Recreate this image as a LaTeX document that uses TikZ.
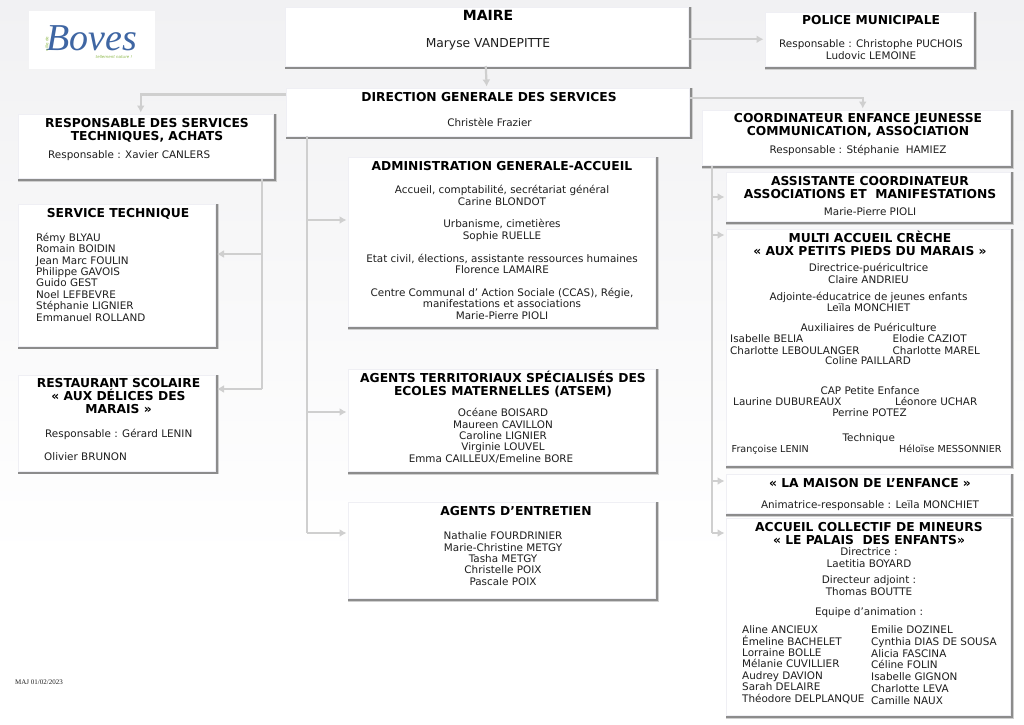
\documentclass[tikz,border=0pt]{standalone}
\usepackage{fontspec}
\setmainfont{DejaVu Sans}
\newfontfamily\logofont{Liberation Serif}
\definecolor{conn}{HTML}{CFCFCF}
\definecolor{shad}{HTML}{8C8C8C}
\definecolor{shadb}{HTML}{CFCFCF}
\definecolor{edge}{HTML}{EFEFF4}
\definecolor{bgtop}{HTML}{F1F1F3}
\definecolor{txtc}{HTML}{1E1E1E}
\definecolor{logoblue}{HTML}{3F66A3}
\definecolor{logogreen}{HTML}{8DB84A}
\usetikzlibrary{arrows.meta}
\newcommand\rb{\rule{0pt}{10pt}}
\newcommand\rh{\rule{0pt}{12pt}}
\tikzset{
  boxw/.style={draw=edge,line width=.6pt,fill=white,anchor=north west,inner sep=0pt,outer sep=0pt},
  body/.style={font=\fontsize{10.4}{11.4}\selectfont,text=txtc,inner sep=0pt,align=center,anchor=north,execute at begin node={\lineskiplimit=-20pt}},
  bodyl/.style={body,align=left,anchor=north west},
  bodyw/.style={bodyl,font=\fontsize{10.4}{11.75}\selectfont},
  small/.style={bodyl,font=\fontsize{9.6}{11.4}\selectfont},
  head/.style={font=\fontsize{12.3}{13}\bfseries\selectfont,text=black,inner sep=0pt,align=center,anchor=north,execute at begin node={\lineskiplimit=-20pt}},
  connl/.style={draw=conn,line width=2.2pt,shorten >=1.5pt,-{Latex[length=7pt,width=8pt]}},
  connn/.style={draw=conn,line width=2.2pt}
}
\newcommand\bx[5]{%
  \fill[shadb] (#2,#3) rectangle ({#4+.8},{#5+.8});
  \fill[shad] (#2,#3) rectangle (#4,#5);
  \node[boxw,minimum width={(#4-#2-2.5)*1pt},minimum height={(#5-#3-2.5)*1pt}] (#1) at (#2,#3) {};}
\newcommand\hd[4]{\node[head] (#1) at (#2,{#3-7.7}) {\rh #4};}
\newcommand\bd[4]{\node[body] (#1) at (#2,{#3-6.5}) {\rb #4};}
\newcommand\bl[4]{\node[bodyl] (#1) at (#2,{#3-6.5}) {\rb #4};}
\begin{document}
\begin{tikzpicture}[x=1pt,y=-1pt]
\useasboundingbox (0,0) rectangle (1024,724);
\shade[top color=bgtop,bottom color=white,draw=none] (0,0) rectangle (1024,560);
% logo
\node[fill=white,inner sep=0pt,minimum width=126pt,minimum height=58pt,anchor=north west] (logo) at (29,11) {};
\node[font=\logofont\itshape\fontsize{38}{38}\selectfont,text=logoblue,inner sep=0pt,text height=25pt,text depth=0pt] (logot) at (92,38) {Boves};
\node[font=\fontsize{4}{4}\itshape\selectfont,text=logogreen,inner sep=0pt] (logos) at (114,57) {tellement nature !};
\node[font=\fontsize{4}{4}\selectfont,text=logogreen,inner sep=0pt,rotate=90] (logov) at (47,44) {ville de};
% boxes
\bx{maire}{285}{7}{691}{68.5}
\bx{police}{765}{12}{976}{69}
\bx{dgs}{286}{88}{692}{138.5}
\bx{resp}{18}{114}{276}{181}
\bx{coord}{702}{110}{1013}{168}
\bx{assist}{726}{172}{1013}{224}
\bx{multi}{726}{229}{1013}{468}
\bx{maison}{726}{474}{1013}{516}
\bx{acm}{726}{518}{1013}{718}
\bx{admin}{348}{157}{658}{329}
\bx{atsem}{348}{369}{658}{474}
\bx{entr}{348}{502}{658}{601}
\bx{stech}{18}{204}{218}{348.5}
\bx{resto}{18}{375}{218}{473.5}
% connectors
\draw[connl] (maire.east|-police.west) -- (police.west);
\draw[connl] ([xshift=-1pt]maire.south) -- ([xshift=-1pt]dgs.north);
\draw[connl] ([yshift=17.5pt]dgs.west) -| ([xshift=-5pt]resp.north);
\draw[connl] ([yshift=14pt]dgs.east) -| ([xshift=6.5pt]coord.north);
\coordinate (t1) at ([xshift=21pt]dgs.south west);
\draw[connn] (t1) -- (t1|-0,533);
\draw[connl] (t1|-0,220) -- (admin.west|-0,220);
\draw[connl] (t1|-0,412) -- (atsem.west|-0,412);
\draw[connl] (t1|-0,533) -- (entr.west|-0,533);
\coordinate (t2) at ([xshift=-11.5pt]resp.south east);
\draw[connn] (t2) -- (t2|-0,389);
\draw[connl] (t2|-0,254) -- (stech.east|-0,254);
\draw[connl] (t2|-0,389) -- (resto.east|-0,389);
\coordinate (t3) at ([xshift=10pt]coord.south west);
\draw[connn] (t3) -- (t3|-0,533);
\draw[connl] (t3|-0,197) -- (assist.west|-0,197);
\draw[connl] (t3|-0,235) -- (multi.west|-0,235);
\draw[connl] (t3|-0,481) -- (maison.west|-0,481);
\draw[connl] (t3|-0,533) -- (acm.west|-0,533);
% texts
\node[head,font=\fontsize{14}{14}\bfseries\selectfont] (t_maire) at (488,8) {\rh MAIRE};
\node[body,font=\fontsize{12.3}{12}\selectfont] (b_maire) at (488,37) {\rb Maryse VANDEPITTE};
\hd{t_police}{871}{20}{POLICE MUNICIPALE}
\bd{b_police}{871}{44}{Responsable : Christophe PUCHOIS\\Ludovic LEMOINE}
\hd{t_dgs}{489}{97}{DIRECTION GENERALE DES SERVICES}
\bd{b_dgs}{489.5}{122.5}{Christèle Frazier}
\hd{t_resp}{147}{123}{RESPONSABLE DES SERVICES\\TECHNIQUES, ACHATS}
\bl{b_resp}{48}{155}{Responsable : Xavier CANLERS}
\hd{t_stech}{118}{213}{SERVICE TECHNIQUE}
\bl{b_stech}{36}{237.5}{Rémy BLYAU\\Romain BOIDIN\\Jean Marc FOULIN\\Philippe GAVOIS\\Guido GEST\\Noel LEFBEVRE\\Stéphanie LIGNIER\\Emmanuel ROLLAND}
\hd{t_resto}{118.5}{383}{RESTAURANT SCOLAIRE\\« AUX DÉLICES DES\\MARAIS »}
\bl{b_resto1}{45}{434}{Responsable : Gérard LENIN}
\bl{b_resto2}{44}{456.5}{Olivier BRUNON}
\hd{t_admin}{502}{166}{ADMINISTRATION GENERALE-ACCUEIL}
\bd{b_admin}{502}{190}{Accueil, comptabilité, secrétariat général\\Carine BLONDOT\\[11.4pt]Urbanisme, cimetières\\Sophie RUELLE\\[11.4pt]Etat civil, élections, assistante ressources humaines\\Florence LAMAIRE\\[11.4pt]Centre Communal d’ Action Sociale (CCAS), Régie,\\manifestations et associations\\Marie-Pierre PIOLI}
\hd{t_atsem}{503}{377.5}{AGENTS TERRITORIAUX SPÉCIALISÉS DES\\ECOLES MATERNELLES (ATSEM)}
\bd{b_atsem}{503}{413}{Océane BOISARD\\Maureen CAVILLON\\Caroline LIGNIER\\Virginie LOUVEL}
\bd{b_atsem2}{491}{458.5}{Emma CAILLEUX/Emeline BORE}
\hd{t_entr}{516}{511}{AGENTS D’ENTRETIEN}
\bd{b_entr}{503}{536}{Nathalie FOURDRINIER\\Marie-Christine METGY\\Tasha METGY\\Christelle POIX\\Pascale POIX}
\hd{t_coord}{858}{118}{COORDINATEUR ENFANCE JEUNESSE\\COMMUNICATION, ASSOCIATION}
\bd{b_coord}{858}{150}{Responsable : Stéphanie\ \ HAMIEZ}
\hd{t_assist}{870}{181}{ASSISTANTE COORDINATEUR\\ASSOCIATIONS ET\ \ MANIFESTATIONS}
\bd{b_assist}{870}{212}{Marie-Pierre PIOLI}
\hd{t_multi}{870}{238}{MULTI ACCUEIL CRÈCHE\\« AUX PETITS PIEDS DU MARAIS »}
\bd{b_multi1}{868.5}{268}{Directrice-puéricultrice\\Claire ANDRIEU\\[6pt]Adjointe-éducatrice de jeunes enfants\\Leïla MONCHIET\\[8.5pt]Auxiliaires de Puériculture}
\bl{b_multi2}{730}{339}{Isabelle BELIA\\Charlotte LEBOULANGER}
\bl{b_multi3}{892.5}{339}{Elodie CAZIOT\\Charlotte MAREL}
\bd{b_multi4}{868}{361}{Coline PAILLARD}
\bd{b_multi5}{870}{391}{CAP Petite Enfance}
\bl{b_multi6}{733}{402}{Laurine DUBUREAUX}
\bl{b_multi7}{895}{402}{Léonore UCHAR}
\bd{b_multi8}{869.5}{413}{Perrine POTEZ}
\bd{b_multi9}{868.7}{438}{Technique}
\node[small] (b_multi10) at (731.5,442.5) {\rb Françoise LENIN};
\node[small] (b_multi11) at (899,442.5) {\rb Héloïse MESSONNIER};
\hd{t_maison}{870}{483}{« LA MAISON DE L’ENFANCE »}
\bd{b_maison}{870}{505}{Animatrice-responsable : Leïla MONCHIET}
\hd{t_acm}{869}{527}{ACCUEIL COLLECTIF DE MINEURS\\« LE PALAIS\ \ DES ENFANTS»}
\bd{b_acm1}{869}{552}{Directrice :\\Laetitia BOYARD}
\bd{b_acm2}{869}{580}{Directeur adjoint :\\Thomas BOUTTE}
\bd{b_acm3}{869}{612}{Equipe d’animation :}
\bl{b_acm4}{742}{630}{Aline ANCIEUX\\Émeline BACHELET\\Lorraine BOLLE\\Mélanie CUVILLIER\\Audrey DAVION\\Sarah DELAIRE\\Théodore DELPLANQUE}
\node[bodyw] (b_acm5) at (871,623.5) {\rb Emilie DOZINEL\\Cynthia DIAS DE SOUSA\\Alicia FASCINA\\Céline FOLIN\\Isabelle GIGNON\\Charlotte LEVA\\Camille NAUX};
\node[font=\logofont\fontsize{7}{8}\selectfont,text=txtc,inner sep=0pt,anchor=west] (maj) at (15,682) {MAJ 01/02/2023};
\end{tikzpicture}
\end{document}
